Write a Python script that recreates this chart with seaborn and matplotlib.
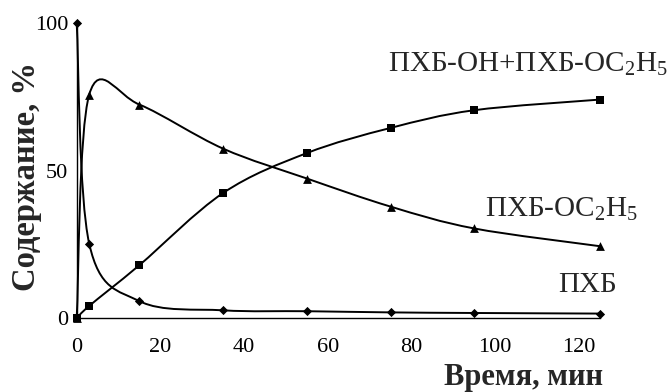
import numpy as np
import pandas as pd
import matplotlib
matplotlib.use("Agg")
import matplotlib.pyplot as plt
from matplotlib.path import Path
from matplotlib.patches import PathPatch
import seaborn as sns

# ---- data ----
time_min = [0, 3, 15, 35, 55, 75, 95, 125]
pcb = [100, 25.2, 5.8, 2.7, 2.4, 2.0, 1.8, 1.6]
pcb_oet = [0, 75.7, 72.3, 57.4, 47.3, 37.8, 30.4, 24.4]
pcb_sum = [0, 4.2, 18.0, 42.4, 55.9, 64.4, 70.4, 74.0]

series_names = ["ПХБ", "ПХБ-OC$_2$H$_5$", "ПХБ-OH+ПХБ-OC$_2$H$_5$"]
x_ticks = [0, 20, 40, 60, 80, 100, 120]
y_ticks = [0, 50, 100]

sns.set_style("white")
plt.rcParams["font.family"] = ["Liberation Serif", "DejaVu Serif"]
plt.rcParams["mathtext.fontset"] = "custom"
plt.rcParams["mathtext.rm"] = "Liberation Serif"
plt.rcParams["mathtext.it"] = "Liberation Serif:italic"
plt.rcParams["mathtext.bf"] = "Liberation Serif:bold"

fig = plt.figure(figsize=(6.68, 3.92), dpi=100)
ax = fig.add_axes([0.1148, 0.188, 0.783, 0.754])

df = pd.DataFrame({
    "t": time_min * 3,
    "v": pcb + pcb_oet + pcb_sum,
    "s": [series_names[0]] * 8 + [series_names[1]] * 8 + [series_names[2]] * 8,
})


def smooth_path(x, y):
    pts = np.column_stack([x, y]).astype(float)
    n = len(pts)
    verts = [pts[0]]
    codes = [Path.MOVETO]
    for i in range(n - 1):
        p0 = pts[i - 1] if i > 0 else pts[i]
        p1 = pts[i]
        p2 = pts[i + 1]
        p3 = pts[i + 2] if i + 2 < n else pts[i + 1]
        c1 = p1 + (p2 - p0) / 6.0
        c2 = p2 - (p3 - p1) / 6.0
        verts += [c1, c2, p2]
        codes += [Path.CURVE4] * 3
    return Path(verts, codes)


for vals in (pcb, pcb_oet, pcb_sum):
    patch = PathPatch(smooth_path(time_min, vals), facecolor="none",
                      edgecolor="black", lw=1.4, transform=ax.transData,
                      clip_on=False)
    ax.add_patch(patch)

markers = {series_names[0]: "D", series_names[1]: "^", series_names[2]: "s"}
sizes_map = {series_names[0]: 22, series_names[1]: 40, series_names[2]: 40}
for name in series_names:
    sub = df[df["s"] == name]
    sns.scatterplot(data=sub, x="t", y="v", marker=markers[name],
                    s=sizes_map[name], color="black", linewidth=0,
                    ax=ax, clip_on=False, zorder=5, legend=False)

ax.set_xlim(0, 125)
ax.set_ylim(0, 100)
ax.set_xticks(x_ticks)
ax.set_yticks(y_ticks)
ax.tick_params(axis="both", direction="out", length=4, width=1,
               color="black", labelsize=16, labelcolor="black")
ax.tick_params(axis="x", pad=10)
ax.tick_params(axis="y", pad=2)
for side in ("top", "right"):
    ax.spines[side].set_visible(False)
for side in ("left", "bottom"):
    ax.spines[side].set_color("black")
    ax.spines[side].set_linewidth(1.0)

ax.set_ylabel("Содержание, %", fontsize=23.5, fontweight="bold")
ax.yaxis.set_label_coords(-0.066, 0.48)
ax.set_xlabel("Время, мин", fontsize=22, fontweight="bold")
ax.xaxis.label.set_ha("right")
ax.xaxis.label.set_va("baseline")
ax.xaxis.set_label_coords(1.006, -0.224)

fig.text(0.581, 0.8156, series_names[2], fontsize=21, ha="left", va="baseline")
fig.text(0.726, 0.446, series_names[1], fontsize=21, ha="left", va="baseline")
fig.text(0.835, 0.255, series_names[0], fontsize=21, ha="left", va="baseline")

fig.savefig("out.png", dpi=100)
